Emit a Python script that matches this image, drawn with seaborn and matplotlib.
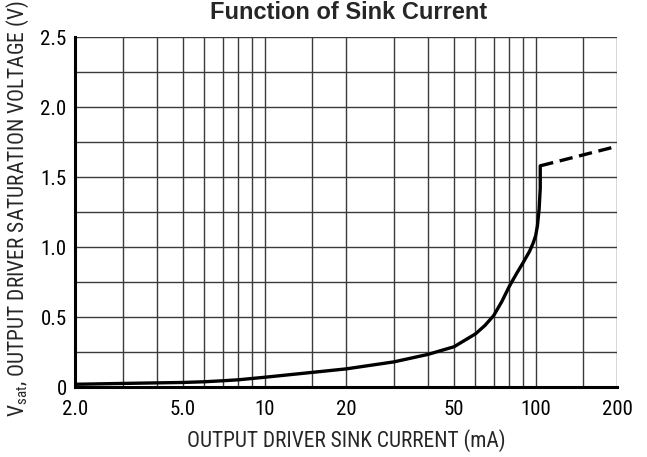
import matplotlib
matplotlib.use('Agg')
import matplotlib.pyplot as plt
import seaborn as sns
import pandas as pd
from matplotlib import font_manager
from matplotlib.ticker import FixedLocator, NullFormatter

current_solid = [2, 3, 4, 5, 6, 7, 8, 10, 15, 20, 30, 40, 50, 60, 65, 70, 75, 80, 85, 90, 95, 98, 100, 101.5, 103, 104, 104]
vsat_solid = [0.02, 0.026, 0.03, 0.033, 0.038, 0.045, 0.052, 0.07, 0.105, 0.13, 0.18, 0.233, 0.288, 0.38, 0.44, 0.51, 0.61, 0.72, 0.81, 0.89, 0.97, 1.03, 1.08, 1.15, 1.27, 1.42, 1.58]
current_dash = [104, 200]
vsat_dash = [1.58, 1.72]

major_x = [2, 5, 10, 20, 50, 100, 200]
major_x_labels = ['2.0', '5.0', '10', '20', '50', '100', '200']
minor_x = [3, 4, 6, 7, 8, 9, 15, 30, 40, 60, 70, 80, 90, 150]
major_y = [0, 0.5, 1.0, 1.5, 2.0, 2.5]
major_y_labels = ['0', '0.5', '1.0', '1.5', '2.0', '2.5']
minor_y = [0.25, 0.75, 1.25, 1.75, 2.25]

sns.set_style('white')

# pick a condensed face if one exists, the reference uses a narrow sans
names = {f.name for f in font_manager.fontManager.ttflist}
narrow = [n for n in ['Liberation Sans Narrow', 'DejaVu Sans Condensed', 'Roboto Condensed',
                      'Open Sans Condensed'] if n in names]
plt.rcParams['font.family'] = narrow + ['Liberation Sans', 'DejaVu Sans']
txt_size = 15 if narrow else 12

solid = pd.DataFrame({'I': current_solid, 'V': vsat_solid})
dash = pd.DataFrame({'I': current_dash, 'V': vsat_dash})

fig = plt.figure(figsize=(6.47, 4.57), dpi=100)
ax = fig.add_axes([0.116, 0.153, 0.838, 0.766])

sns.lineplot(data=solid, x='I', y='V', ax=ax, color='black', linewidth=2.4,
             sort=False, estimator=None)
sns.lineplot(data=dash, x='I', y='V', ax=ax, color='black', linewidth=2.4,
             sort=False, estimator=None, dashes=False, linestyle=(0, (4, 2)))

ax.set_xscale('log')
ax.set_xlim(2, 200)
ax.set_ylim(0, 2.5)

ax.xaxis.set_major_locator(FixedLocator(major_x))
ax.set_xticklabels(major_x_labels)
ax.xaxis.set_minor_locator(FixedLocator(minor_x))
ax.xaxis.set_minor_formatter(NullFormatter())
ax.yaxis.set_major_locator(FixedLocator(major_y))
ax.set_yticklabels(major_y_labels)
ax.yaxis.set_minor_locator(FixedLocator(minor_y))

ax.grid(True, which='both', color='#3a3a3a', linewidth=1.0)
ax.set_axisbelow(True)
ax.tick_params(which='both', length=0, labelsize=txt_size, colors='black')
ax.tick_params(axis='x', pad=9)
ax.tick_params(axis='y', pad=6)

for side in ['top', 'right']:
    ax.spines[side].set_visible(False)
for side in ['left', 'bottom']:
    ax.spines[side].set_color('black')
    ax.spines[side].set_linewidth(2.2)

ax.set_xlabel('OUTPUT DRIVER SINK CURRENT (mA)', fontsize=txt_size + 0.5, va='center')
ax.xaxis.set_label_coords(0.5, -0.152)
ax.set_ylabel(r'V$_{\mathregular{sat}}$, OUTPUT DRIVER SATURATION VOLTAGE (V)',
              fontsize=txt_size + 0.5, va='center')
ax.yaxis.set_label_coords(-0.105, 0.51)

fig.text(0.539, 0.958, 'Function of Sink Current', ha='center', va='baseline',
         fontsize=17, fontweight='bold', family=['Liberation Sans', 'DejaVu Sans'])

fig.savefig('out.png', dpi=100)
